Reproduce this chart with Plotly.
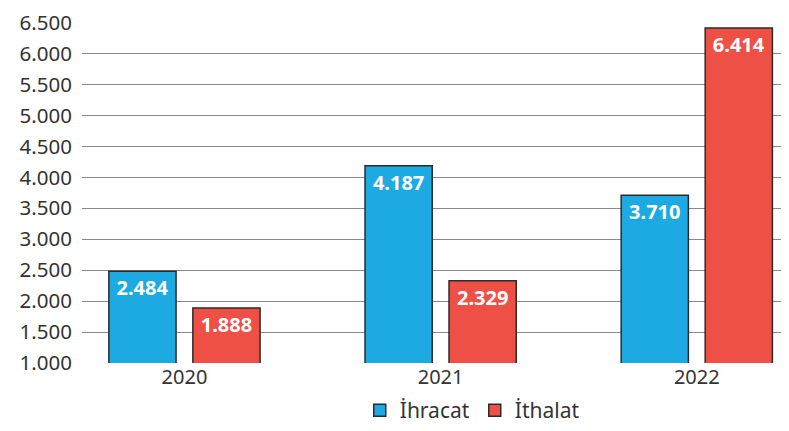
import plotly.graph_objects as go

years = ["2020", "2021", "2022"]
ihracat = [2484, 4187, 3710]
ithalat = [1888, 2329, 6414]
y_ticks = [1000, 1500, 2000, 2500, 3000, 3500, 4000, 4500, 5000, 5500, 6000, 6500]

def fmt(v):
    return f"{v:,}".replace(",", ".")

label_font = dict(color="white", size=20, family="Noto Sans", weight="bold")

fig = go.Figure()
fig.add_trace(go.Bar(
    x=years, y=ihracat, name="İhracat",
    marker=dict(color="#1DAAE2", line=dict(color="#2b2b2b", width=1.5)),
    text=[fmt(v) for v in ihracat], textposition="inside", insidetextanchor="end",
    textfont=label_font, textangle=0,
))
fig.add_trace(go.Bar(
    x=years, y=ithalat, name="İthalat",
    marker=dict(color="#EF5045", line=dict(color="#2b2b2b", width=1.5)),
    text=[fmt(v) for v in ithalat], textposition="inside", insidetextanchor="end",
    textfont=label_font, textangle=0,
))

fig.update_layout(
    width=781, height=423,
    margin=dict(l=74, r=0, t=7, b=65),
    paper_bgcolor="white", plot_bgcolor="white",
    barmode="group", bargap=0.344, bargroupgap=0.2,
    font=dict(family="Noto Sans", color="#333333", size=20),
    legend=dict(orientation="h", x=0.552, xanchor="center", y=-0.14, yanchor="middle",
                font=dict(size=21, color="#333333"), traceorder="normal"),
    xaxis=dict(type="category", range=[-0.4, 2.36], showgrid=False, showline=False,
               ticks="", tickfont=dict(size=20)),
    yaxis=dict(range=[1000, 6510], tickvals=y_ticks, ticktext=[fmt(v) for v in y_ticks],
               showgrid=True, gridcolor="#8a8a8a", gridwidth=1, zeroline=False,
               showline=False, ticks="", ticklabelstandoff=9, tickfont=dict(size=20.5),
               ticklabeloverflow="allow"),
)

fig.write_html("out.html")
